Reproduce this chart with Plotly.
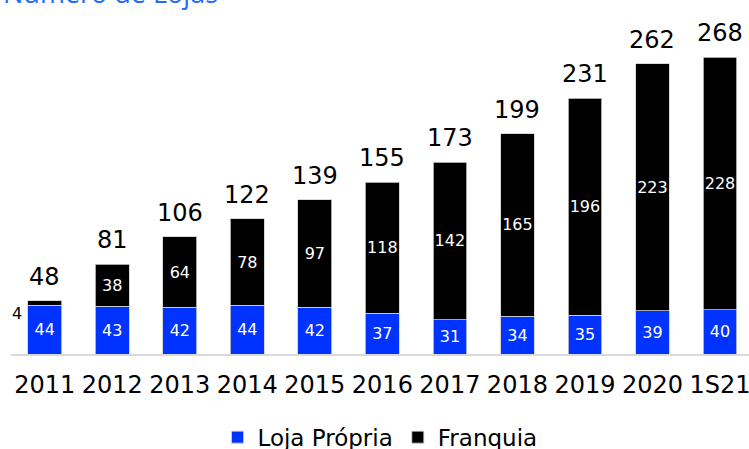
import plotly.graph_objects as go

categories = ["2011", "2012", "2013", "2014", "2015", "2016", "2017", "2018", "2019", "2020", "1S21"]
loja_propria = [44, 43, 42, 44, 42, 37, 31, 34, 35, 39, 40]
franquia = [4, 38, 64, 78, 97, 118, 142, 165, 196, 223, 228]
totals = [48, 81, 106, 122, 139, 155, 173, 199, 231, 262, 268]

FONT = "DejaVu Sans"
BLUE = "#0033FF"

fig = go.Figure()
fig.add_trace(go.Bar(
    name="Loja Própria", x=categories, y=loja_propria,
    marker=dict(color=BLUE, line=dict(color="#d0d0d0", width=0.8)),
    text=[str(v) for v in loja_propria], textposition="inside",
    insidetextanchor="middle", textangle=0, constraintext="none",
    textfont=dict(color="white", size=16, family=FONT),
))
fr_text = ["" if v < 10 else str(v) for v in franquia]
fig.add_trace(go.Bar(
    name="Franquia", x=categories, y=franquia,
    marker=dict(color="black", line=dict(color="#d0d0d0", width=0.8)),
    text=fr_text, textposition="inside",
    insidetextanchor="middle", textangle=0, constraintext="none",
    textfont=dict(color="white", size=16, family=FONT),
))

annotations = []
for i, t in enumerate(totals):
    annotations.append(dict(x=i, y=t, xref="x", yref="y", text=str(t), showarrow=False,
                            yanchor="bottom", yshift=8,
                            font=dict(size=24, color="black", family=FONT)))
# small franchise value for 2011, shown left of the bar
annotations.append(dict(x=0, y=loja_propria[0] + franquia[0] / 2, xref="x", yref="y",
                        text=str(franquia[0]), showarrow=False,
                        xanchor="right", xshift=-21, yshift=-10,
                        font=dict(size=16, color="black", family=FONT)))
annotations.append(dict(x=0, y=1, xref="paper", yref="paper", text="Número de Lojas",
                        showarrow=False, xanchor="left", yanchor="bottom",
                        xshift=-10, yshift=-13,
                        font=dict(size=27, color="#1F6BFF", family="Open Sans")))

fig.update_layout(
    barmode="stack", bargap=0.5,
    width=749, height=449,
    margin=dict(l=11, r=0, t=0, b=95, autoexpand=False),
    paper_bgcolor="white", plot_bgcolor="white",
    font=dict(family=FONT, color="black"),
    showlegend=True,
    legend=dict(orientation="h", x=0.5, xanchor="center", y=-0.235, yanchor="middle",
                font=dict(size=23, family=FONT), traceorder="normal"),
    annotations=annotations,
    xaxis=dict(type="category", range=[-0.5, 10.43], automargin=False,
               showline=True, linecolor="#d9d9d9", linewidth=2,
               tickfont=dict(size=24, family=FONT, color="black"),
               ticks="outside", ticklen=8, tickcolor="rgba(0,0,0,0)", showgrid=False),
    yaxis=dict(range=[0, 319.5], visible=False, showgrid=False, automargin=False),
)

fig.write_html("out.html", config={"displayModeBar": False},
               post_script="document.body.style.margin='0';")
